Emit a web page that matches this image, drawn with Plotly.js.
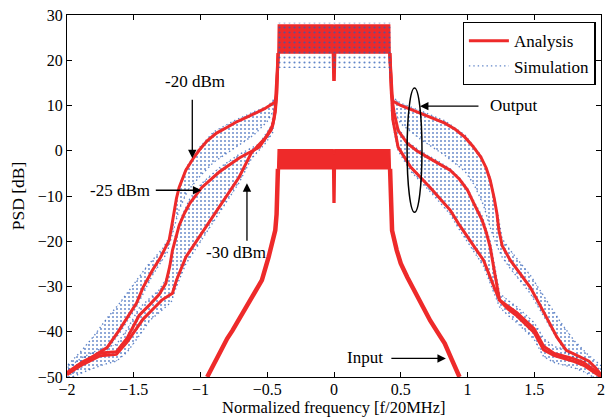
<!DOCTYPE html>
<html>
<head>
<meta charset="utf-8">
<script src="https://cdn.plot.ly/plotly-3.0.1.min.js"></script>
<style>html,body{margin:0;padding:0;background:#fff;}#plot{width:606px;height:418px;}</style>
</head>
<body>
<div id="plot"></div>
<script>
// ---------- tick labels ----------
const xTicks = [-2, -1.5, -1, -0.5, 0, 0.5, 1, 1.5, 2];
const xTickText = ['\u22122', '\u22121.5', '\u22121', '\u22120.5', '0', '0.5', '1', '1.5', '2'];
const yTicks = [-50, -40, -30, -20, -10, 0, 10, 20, 30];
const yTickText = ['\u221250', '\u221240', '\u221230', '\u221220', '\u221210', '0', '10', '20', '30'];
const xTitle = 'Normalized frequency [f/20MHz]';
const yTitle = 'PSD [dB]';

// ---------- Analysis: output in-band (outline) ----------
const outBandX = [-0.42, -0.417, -0.006, 0.0, 0.006, 0.417, 0.42, 0.012, 0.008, -0.008, -0.012, -0.42];
const outBandY = [21.6, 27.8, 27.8, 26.3, 27.8, 27.8, 21.6, 21.6, 15.6, 15.6, 21.6, 21.6];

// ---------- Analysis: input in-band (outline) ----------
const inBandX = [-0.422, -0.418, -0.006, 0.0, 0.006, 0.418, 0.422, 0.01, 0.007, -0.007, -0.01, -0.422];
const inBandY = [-4.0, 0.2, 0.2, -0.8, 0.2, 0.2, -4.0, -4.0, -11.4, -11.4, -4.0, -4.0];

// ---------- Analysis: input skirts ----------
const inXL = [-0.95, -0.90, -0.86, -0.80, -0.76, -0.70, -0.64, -0.58, -0.54, -0.49, -0.46, -0.44, -0.43, -0.425, -0.42];
const inYL = [-50, -47, -44.8, -41.5, -39.7, -36.8, -33.7, -31.0, -28.6, -23.5, -20.0, -17.6, -14.0, -10.0, -4.0];
const inXR = [0.42, 0.425, 0.43, 0.435, 0.47, 0.50, 0.55, 0.60, 0.66, 0.72, 0.78, 0.83, 0.88, 0.94];
const inYR = [-4.0, -10.0, -14.0, -17.6, -22.0, -24.9, -28.0, -30.8, -34.2, -37.5, -40.3, -42.6, -46.0, -50.0];

// ---------- Analysis: output skirts, -20 dBm ----------
const a20XL = [-2.0, -1.95, -1.85, -1.78, -1.70, -1.61, -1.55, -1.48, -1.43, -1.36, -1.30, -1.255, -1.235, -1.215, -1.20, -1.18, -1.16, -1.11, -1.05, -1.01, -0.95, -0.88, -0.80, -0.735, -0.66, -0.59, -0.52, -0.47, -0.44, -0.435, -0.425, -0.418];
const a20YL = [-49.5, -48.3, -46.3, -45.0, -43.5, -39.7, -36.8, -33.7, -30.2, -26.4, -23.6, -21.0, -19.8, -16.5, -13.8, -10.5, -8.1, -4.3, -1.5, 0.1, 2.2, 3.9, 5.2, 6.3, 7.3, 8.3, 9.3, 10.2, 10.8, 12.7, 17.0, 21.6];
const a20XR = [0.418, 0.425, 0.435, 0.44, 0.50, 0.57, 0.65, 0.74, 0.83, 0.91, 0.98, 1.04, 1.10, 1.14, 1.17, 1.20, 1.22, 1.235, 1.26, 1.32, 1.40, 1.47, 1.55, 1.62, 1.67, 1.74, 1.82, 1.91, 1.96, 2.0];
const a20YR = [21.6, 17.0, 12.7, 11.0, 10.0, 9.2, 8.3, 7.2, 6.1, 4.7, 3.0, 1.0, -1.4, -3.8, -6.5, -10.5, -13.8, -17.5, -21.0, -24.2, -27.5, -30.2, -34.5, -38.5, -41.2, -44.1, -45.3, -46.5, -48.0, -49.5];

// ---------- Analysis: output skirts, -25 dBm ----------
const a25XL = [-2.0, -1.88, -1.75, -1.68, -1.63, -1.55, -1.46, -1.38, -1.31, -1.26, -1.23, -1.21, -1.185, -1.16, -1.12, -1.08, -0.99, -0.86, -0.71, -0.62, -0.56, -0.47, -0.45, -0.44, -0.43, -0.418];
const a25YL = [-49.0, -46.6, -44.7, -44.6, -44.4, -41.4, -36.4, -34.0, -31.8, -29.3, -25.5, -22.0, -19.5, -16.5, -13.8, -11.6, -8.1, -4.7, -1.6, -0.2, 0.8, 4.6, 7.0, 9.5, 12.5, 21.6];
const a25XR = [0.418, 0.43, 0.45, 0.48, 0.55, 0.62, 0.70, 0.78, 0.87, 0.94, 1.00, 1.05, 1.11, 1.14, 1.17, 1.20, 1.24, 1.30, 1.37, 1.50, 1.57, 1.65, 1.72, 1.80, 1.87, 1.94, 2.0];
const a25YR = [21.6, 12.5, 8.5, 4.5, 1.6, 0.0, -1.4, -2.7, -4.3, -6.3, -8.7, -11.8, -15.4, -18.0, -21.3, -26.4, -33.0, -34.3, -35.8, -39.4, -43.2, -44.8, -45.3, -46.0, -46.8, -48.3, -49.6];

// ---------- Analysis: output skirts, -30 dBm ----------
const a30XL = [-2.0, -1.88, -1.75, -1.68, -1.63, -1.55, -1.43, -1.35, -1.29, -1.21, -1.18, -1.11, -1.01, -0.91, -0.81, -0.71, -0.62, -0.51, -0.46, -0.44, -0.43, -0.418];
const a30YL = [-49.4, -47.2, -45.3, -45.2, -45.0, -42.3, -37.2, -34.8, -33.0, -31.5, -28.6, -23.5, -19.1, -14.7, -10.3, -5.8, -0.5, 3.0, 5.5, 8.5, 12.0, 21.6];
const a30XR = [0.418, 0.43, 0.44, 0.48, 0.574, 0.72, 0.87, 0.93, 1.02, 1.12, 1.20, 1.24, 1.30, 1.37, 1.50, 1.57, 1.65, 1.72, 1.80, 1.87, 1.94, 2.0];
const a30YR = [21.6, 12.0, 7.0, 0.8, -3.6, -8.1, -13.1, -16.0, -19.8, -24.2, -30.2, -33.0, -34.9, -36.5, -40.2, -44.0, -45.3, -45.9, -46.6, -47.4, -48.8, -50.0];

// ---------- Simulation: spread of the simulated points ----------
// -20 dBm, left
const s20LuX = [-0.43, -0.5, -0.6, -0.75, -0.9, -1.0, -1.1, -1.15, -1.19, -1.22, -1.28, -1.4, -1.5, -1.6, -1.7, -1.8, -1.9, -2.0];
const s20LuY = [12.0, 9.8, 8.6, 6.6, 4.2, 1.0, -3.4, -7.0, -12.5, -18.5, -21.5, -25.5, -29.5, -33.5, -37.0, -41.0, -44.5, -47.5];
const s20LlX = [-0.43, -0.5, -0.6, -0.75, -0.9, -1.0, -1.1, -1.16, -1.2, -1.25, -1.36, -1.48, -1.6, -1.7, -1.85, -2.0];
const s20LlY = [10.0, 6.5, 3.5, 0.5, -2.5, -5.5, -9.0, -13.0, -17.0, -22.5, -27.5, -34.5, -40.0, -44.0, -47.0, -50.0];
// -25 / -30 dBm, left
const s25LuX = [-0.44, -0.47, -0.56, -0.71, -0.86, -0.99, -1.08, -1.14, -1.19, -1.22, -1.25, -1.31, -1.38, -1.46, -1.55, -1.63, -1.75, -1.88, -2.0];
const s25LuY = [10.0, 5.5, 1.5, -0.8, -3.8, -7.2, -10.6, -14.5, -19.0, -24.0, -28.0, -30.8, -32.6, -34.8, -39.5, -42.8, -43.8, -45.6, -48.0];
const s25LlX = [-0.44, -0.46, -0.51, -0.62, -0.71, -0.81, -0.91, -1.01, -1.11, -1.18, -1.22, -1.30, -1.38, -1.45, -1.55, -1.63, -1.72, -1.85, -2.0];
const s25LlY = [9.0, 4.0, 1.8, -1.8, -7.0, -11.5, -16.0, -20.5, -25.0, -30.0, -33.5, -35.5, -37.5, -40.5, -44.5, -46.5, -47.2, -48.6, -50.5];
// -20 dBm, right
const s20RuX = [0.43, 0.5, 0.65, 0.83, 0.98, 1.1, 1.17, 1.22, 1.26, 1.32, 1.47, 1.6, 1.7, 1.8, 1.9, 2.0];
const s20RuY = [12.0, 10.5, 8.8, 6.6, 3.5, -1.0, -6.0, -13.0, -19.5, -22.0, -27.5, -33.5, -38.0, -42.0, -45.0, -47.5];
const s20RlX = [0.43, 0.5, 0.65, 0.83, 0.98, 1.05, 1.12, 1.17, 1.22, 1.26, 1.32, 1.47, 1.62, 1.74, 1.91, 2.0];
const s20RlY = [10.0, 6.0, 2.5, -1.0, -4.5, -7.5, -12.0, -17.0, -21.0, -23.5, -26.0, -31.5, -39.0, -44.8, -47.0, -50.0];
// -25 / -30 dBm, right
const s25RuX = [0.43, 0.48, 0.55, 0.62, 0.70, 0.78, 0.87, 0.94, 1.0, 1.05, 1.11, 1.17, 1.2, 1.24, 1.30, 1.37, 1.5, 1.57, 1.65, 1.72, 1.87, 2.0];
const s25RuY = [10.5, 5.0, 2.0, 0.5, -1.0, -2.3, -4.0, -6.0, -8.3, -11.3, -14.5, -20.0, -25.0, -31.5, -33.0, -34.5, -38.0, -41.5, -43.3, -43.8, -45.8, -48.5];
const s25RlX = [0.43, 0.44, 0.48, 0.574, 0.72, 0.87, 0.93, 1.02, 1.12, 1.20, 1.24, 1.30, 1.37, 1.5, 1.57, 1.65, 1.72, 1.8, 1.87, 2.0];
const s25RlY = [9.0, 6.0, 0.0, -4.5, -9.0, -14.0, -17.0, -21.0, -25.5, -31.5, -34.5, -36.3, -38.0, -41.7, -45.5, -46.8, -47.3, -48.0, -48.8, -51.0];
// output in-band
const sBandUX = [-0.432, -0.425, 0.425, 0.432];
const sBandUY = [11.5, 28.3, 28.3, 11.5];
const sBandLX = [-0.432, -0.412, 0.412, 0.432];
const sBandLY = [11.5, 18.3, 18.3, 11.5];

// ---------- styles ----------
const RED = '#ee2a2a';
const BLUE = '#2b5cb5';
const FONT = 'Liberation Serif, Times New Roman, serif';

const traces = [];
let simLegendShown = false;
function addCloud(ux, uy, lx, ly) {
  traces.push({
    x: ux.concat(lx.slice().reverse()),
    y: uy.concat(ly.slice().reverse()),
    type: 'scatter', mode: 'lines', fill: 'toself',
    line: {width: 0, color: 'rgba(0,0,0,0)'},
    fillcolor: 'rgba(0,0,0,0)',
    fillpattern: {shape: '.', size: 4, solidity: 0.2, fgcolor: BLUE, fgopacity: 0.7, bgcolor: 'rgba(0,0,0,0)', fillmode: 'replace'},
    showlegend: false, hoverinfo: 'skip'
  });
  [[ux, uy], [lx, ly]].forEach(function (p) {
    traces.push({
      x: p[0], y: p[1], type: 'scatter', mode: 'lines',
      line: {color: BLUE, width: 1.4, dash: '1.4px,3px'}, opacity: 0.75,
      name: 'Simulation', legendgroup: 'sim', legendrank: 2,
      showlegend: !simLegendShown, hoverinfo: 'skip'
    });
    simLegendShown = true;
  });
}
addCloud(s20LuX, s20LuY, s20LlX, s20LlY);
addCloud(s25LuX, s25LuY, s25LlX, s25LlY);
addCloud(s20RuX, s20RuY, s20RlX, s20RlY);
addCloud(s25RuX, s25RuY, s25RlX, s25RlY);

// analysis curves
let anaLegendShown = false;
function addLine(xl, yl, xr, yr, w) {
  traces.push({
    x: xl.concat([null], xr), y: yl.concat([null], yr),
    type: 'scatter', mode: 'lines', connectgaps: false,
    line: {color: RED, width: w},
    name: 'Analysis', legendgroup: 'ana', legendrank: 1,
    showlegend: !anaLegendShown, hoverinfo: 'skip'
  });
  anaLegendShown = true;
}
addLine(a20XL, a20YL, a20XR, a20YR, 3);
addLine(a25XL, a25YL, a25XR, a25YR, 3);
addLine(a30XL, a30YL, a30XR, a30YR, 3);
addLine(inXL, inYL, inXR, inYR, 4.5);

function addBand(bx, by) {
  traces.push({
    x: bx, y: by, type: 'scatter', mode: 'lines', fill: 'toself',
    fillcolor: RED, line: {color: RED, width: 1.5},
    showlegend: false, hoverinfo: 'skip'
  });
}
addBand(outBandX, outBandY);
addBand(inBandX, inBandY);

// simulated points over the output band
traces.push({
  x: sBandUX.concat(sBandLX.slice().reverse()),
  y: sBandUY.concat(sBandLY.slice().reverse()),
  type: 'scatter', mode: 'lines', fill: 'toself',
  line: {width: 0, color: 'rgba(0,0,0,0)'}, fillcolor: 'rgba(0,0,0,0)',
  fillpattern: {shape: '.', size: 5, solidity: 0.14, fgcolor: BLUE, fgopacity: 0.75, bgcolor: 'rgba(0,0,0,0)', fillmode: 'replace'},
  showlegend: false, hoverinfo: 'skip'
});

// ---------- annotations ----------
function arrow(x, y, ax, ay) {
  return {x: x, y: y, xref: 'x', yref: 'y', ax: ax, ay: ay, text: '', showarrow: true,
          arrowhead: 2, arrowsize: 1.3, arrowwidth: 1.3, arrowcolor: '#000', standoff: 0, startstandoff: 0};
}
function label(x, y, t) {
  return {x: x, y: y, xref: 'x', yref: 'y', text: t, showarrow: false,
          font: {family: FONT, size: 17, color: '#000'}, xanchor: 'center', yanchor: 'middle'};
}
const annotations = [
  label(-1.039, 15.2, '-20 dBm'), arrow(-1.0615, -1.64, 0, -60),
  label(-1.605, -8.73, '-25 dBm'), arrow(-0.994, -8.73, -47, 0),
  label(-0.734, -22.45, '-30 dBm'), arrow(-0.652, -7.18, 0, 59),
  label(1.352, 10.08, 'Output'), arrow(0.644, 9.86, 60, 0),
  label(0.235, -45.68, 'Input'), arrow(0.838, -45.9, -56, 0),
  // x-axis title, placed under the tick labels
  {x: 0.5, y: -0.1133, xref: 'paper', yref: 'paper', xanchor: 'center', yanchor: 'bottom',
   borderpad: 0, text: xTitle, showarrow: false, font: {family: FONT, size: 16.5, color: '#000'}}
];

const axisCommon = {
  ticks: 'inside', ticklen: 5, tickwidth: 1, tickcolor: '#000',
  showline: true, linecolor: '#000', linewidth: 1, mirror: 'ticks',
  showgrid: false, zeroline: false, ticklabeloverflow: 'allow',
  tickfont: {family: FONT, size: 16, color: '#000'}
};

const layout = {
  width: 606, height: 418,
  margin: {l: 67, r: 5, t: 15, b: 41},
  paper_bgcolor: '#fff', plot_bgcolor: '#fff',
  font: {family: FONT, size: 17, color: '#000'},
  xaxis: Object.assign({}, axisCommon, {
    range: [-2, 2], tickmode: 'array', tickvals: xTicks, ticktext: xTickText,
    ticklabelstandoff: -2
  }),
  yaxis: Object.assign({}, axisCommon, {
    range: [-50, 30], tickmode: 'array', tickvals: yTicks, ticktext: yTickText,
    title: {text: yTitle, font: {family: FONT, size: 17.5}, standoff: 8}
  }),
  showlegend: true,
  legend: {
    x: 0.741, y: 0.9806, xanchor: 'left', yanchor: 'top',
    bgcolor: '#fff', bordercolor: '#000', borderwidth: 1.2,
    font: {family: FONT, size: 17, color: '#000'}, itemwidth: 40, tracegroupgap: 0
  },
  annotations: annotations,
  shapes: [{type: 'circle', xref: 'x', yref: 'y', x0: 0.5475, x1: 0.659, y0: -13.6, y1: 13.85,
            line: {color: '#000', width: 1.5}}]
};

Plotly.newPlot('plot', traces, layout, {staticPlot: true, displayModeBar: false});
</script>
</body>
</html>
